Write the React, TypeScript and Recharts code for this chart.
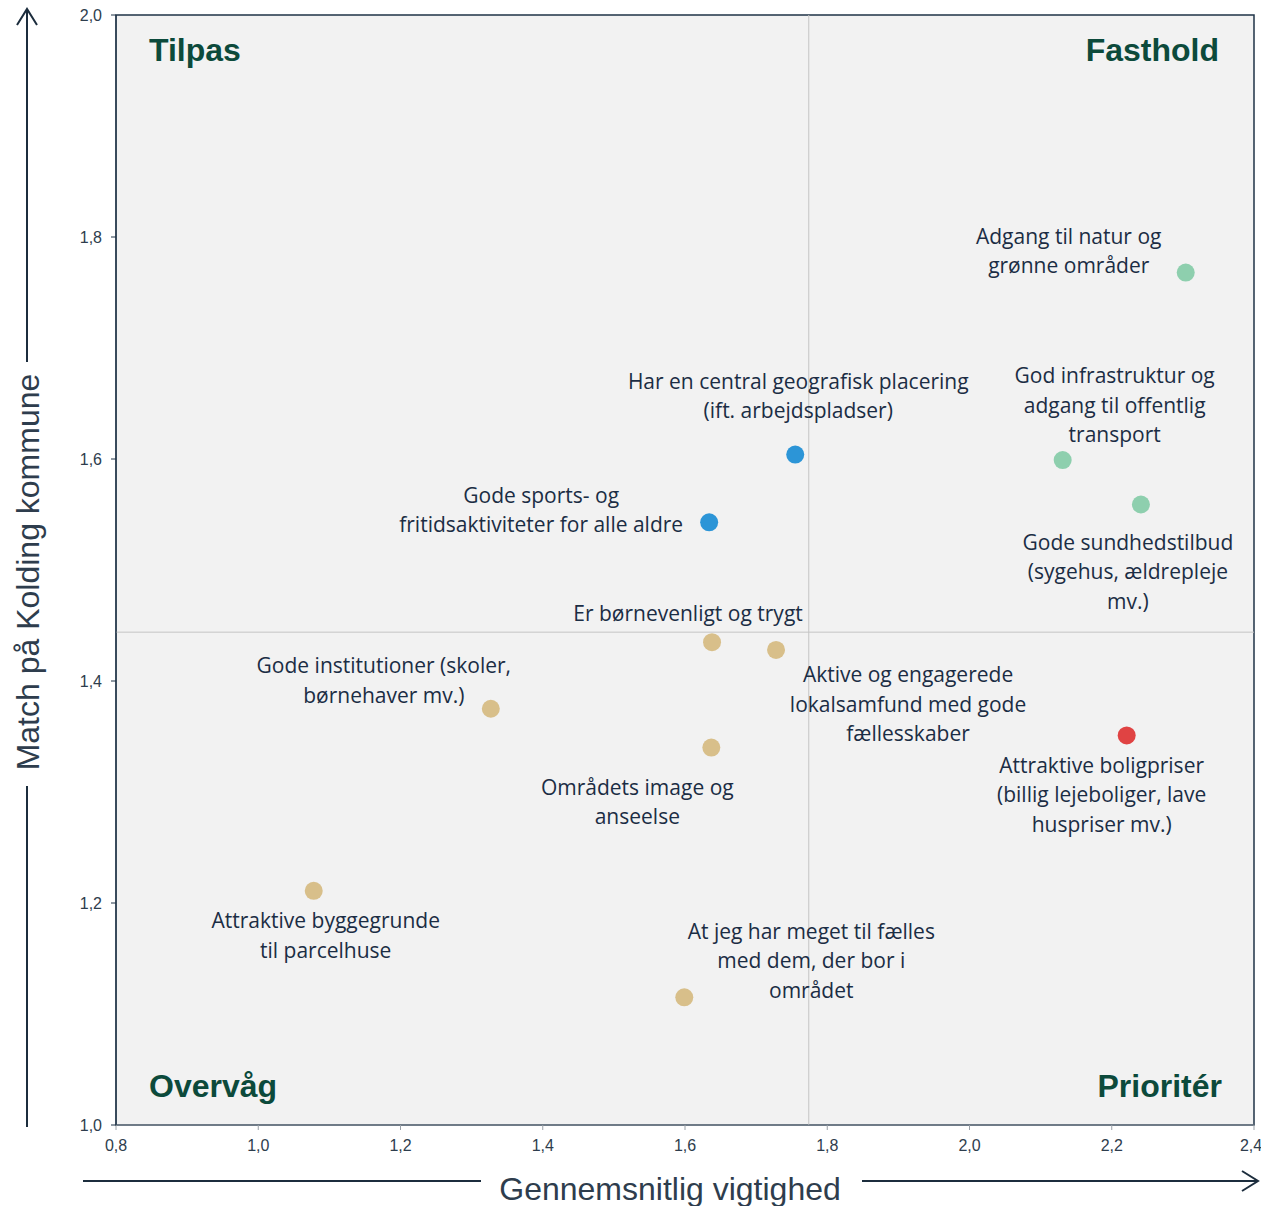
import React from "react";
import {
  ScatterChart,
  Scatter,
  XAxis,
  YAxis,
  ReferenceArea,
  ReferenceLine,
  Cell,
} from "recharts";

// item labels (line breaks as in the original)
const items = [
  "Adgang til natur og\ngrønne områder",
  "God infrastruktur og\nadgang til offentlig\ntransport",
  "Gode sundhedstilbud\n(sygehus, ældrepleje\nmv.)",
  "Har en central geografisk placering\n(ift. arbejdspladser)",
  "Gode sports- og\nfritidsaktiviteter for alle aldre",
  "Er børnevenligt og trygt",
  "Aktive og engagerede\nlokalsamfund med gode\nfællesskaber",
  "Gode institutioner (skoler,\nbørnehaver mv.)",
  "Områdets image og\nanseelse",
  "Attraktive boligpriser\n(billig lejeboliger, lave\nhuspriser mv.)",
  "Attraktive byggegrunde\ntil parcelhuse",
  "At jeg har meget til fælles\nmed dem, der bor i\nområdet",
];
const importance = [2.304, 2.131, 2.241, 1.755, 1.634, 1.638, 1.728, 1.327, 1.637, 2.221, 1.078, 1.599];
const match = [1.768, 1.599, 1.559, 1.604, 1.543, 1.435, 1.428, 1.375, 1.340, 1.351, 1.211, 1.115];
const groups = ["green", "green", "green", "blue", "blue", "tan", "tan", "tan", "tan", "red", "tan", "tan"];

const xTicks = [0.8, 1.0, 1.2, 1.4, 1.6, 1.8, 2.0, 2.2, 2.4];
const yTicks = [1.0, 1.2, 1.4, 1.6, 1.8, 2.0];
const avgImportance = 1.774;
const avgMatch = 1.444;

// label placement relative to the dot: [dx of text centre, dy of first line centre]
const labelOffsets = [
  [-117, -36], [52, -84], [-13, 38], [3, -73], [-168, -27], [-24, -29],
  [132, 25], [-107, -43], [-74, 40], [-25, 30], [12, 30], [127, -66],
];

const groupColors: Record<string, string> = {
  green: "#8ecfae",
  blue: "#2c95d7",
  tan: "#d8bf8a",
  red: "#e04343",
};

const data = items.map((name, i) => ({
  name,
  x: importance[i],
  y: match[i],
  group: groups[i],
  idx: i,
}));

const fmt = (v: number) => v.toFixed(1).replace(".", ",");
const textColor = "#1b2d44";
const LINE_H = 29.5;

function Dot(props: any) {
  const { cx, cy, payload } = props;
  const [dx, dy] = labelOffsets[payload.idx];
  const lines = payload.name.split("\n");
  return (
    <g>
      <circle cx={cx} cy={cy} r={9} fill={groupColors[payload.group]} />
      <text
        textAnchor="middle"
        fontFamily="'Open Sans', sans-serif"
        fontSize={21}
        fill={textColor}
      >
        {lines.map((l: string, k: number) => (
          <tspan key={k} x={cx + dx} y={cy + dy + k * LINE_H} dy="0.35em">
            {l}
          </tspan>
        ))}
      </text>
    </g>
  );
}

const quadStyle = {
  fontFamily: "Arial, 'Liberation Sans', sans-serif",
  fontSize: 32,
  fontWeight: 700,
  fill: "#0c4a3b",
};

const tickStyle = { fontSize: 16, fill: "#2e3d4d", fontFamily: "Arial, 'Liberation Sans', sans-serif" };

export default function App() {
  return (
    <div style={{ position: "absolute", left: 0, top: 0, width: 1261, height: 1206, background: "#fff" }}>
      <ScatterChart
        width={1261}
        height={1206}
        margin={{ top: 15, right: 7, bottom: 0, left: 0 }}
      >
        <XAxis
          type="number"
          dataKey="x"
          domain={[0.8, 2.4]}
          ticks={xTicks}
          tickFormatter={fmt}
          allowDataOverflow
          height={81}
          tickSize={5}
          tickMargin={10}
          axisLine={{ stroke: "#8a939c" }}
          tickLine={{ stroke: "#9aa1a8" }}
          tick={tickStyle}
        />
        <YAxis
          type="number"
          dataKey="y"
          domain={[1.0, 2.0]}
          ticks={yTicks}
          tickFormatter={fmt}
          allowDataOverflow
          width={116}
          tickSize={5}
          tickMargin={9}
          axisLine={{ stroke: "#1f3347" }}
          tickLine={{ stroke: "#1f3347" }}
          tick={tickStyle}
        />
        <ReferenceArea
          x1={0.8}
          x2={2.4}
          y1={1.0}
          y2={2.0}
          fill="#f2f2f2"
          fillOpacity={1}
          stroke="#1f3347"
          strokeWidth={1.5}
        />
        <ReferenceLine x={avgImportance} stroke="#c4c4c4" strokeWidth={1} />
        <ReferenceLine y={avgMatch} stroke="#c4c4c4" strokeWidth={1} />
        <Scatter data={data} shape={<Dot />} isAnimationActive={false}>
          {data.map((d, i) => (
            <Cell key={i} fill={groupColors[d.group]} />
          ))}
        </Scatter>
      </ScatterChart>
      <svg
        width={1261}
        height={1206}
        style={{ position: "absolute", left: 0, top: 0, pointerEvents: "none" }}
      >
        <text x={149} y={50} dy="0.35em" style={quadStyle}>Tilpas</text>
        <text x={1219} y={50} dy="0.35em" textAnchor="end" style={quadStyle}>Fasthold</text>
        <text x={149} y={1086} dy="0.35em" style={quadStyle}>Overvåg</text>
        <text x={1222} y={1086} dy="0.35em" textAnchor="end" style={quadStyle}>Prioritér</text>

        {/* axis arrows + titles */}
        <g stroke="#1c2d3d" strokeWidth={2} fill="none">
          <line x1={83} y1={1181} x2={481} y2={1181} />
          <line x1={862} y1={1181} x2={1258} y2={1181} />
          <polyline points="1242,1171 1258,1181 1242,1191" />
          <line x1={27} y1={1127} x2={27} y2={786} />
          <line x1={27} y1={362} x2={27} y2={9} />
          <polyline points="17,25 27,9 37,25" />
        </g>
        <text
          x={670}
          y={1189}
          dy="0.35em"
          textAnchor="middle"
          fontFamily="Arial, 'Liberation Sans', sans-serif"
          fontSize={32}
          fill="#2e3d4d"
        >
          Gennemsnitlig vigtighed
        </text>
        <text
          transform="translate(28,572) rotate(-90)"
          dy="0.35em"
          textAnchor="middle"
          fontFamily="Arial, 'Liberation Sans', sans-serif"
          fontSize={32}
          fill="#2e3d4d"
        >
          Match på Kolding kommune
        </text>
      </svg>
    </div>
  );
}
